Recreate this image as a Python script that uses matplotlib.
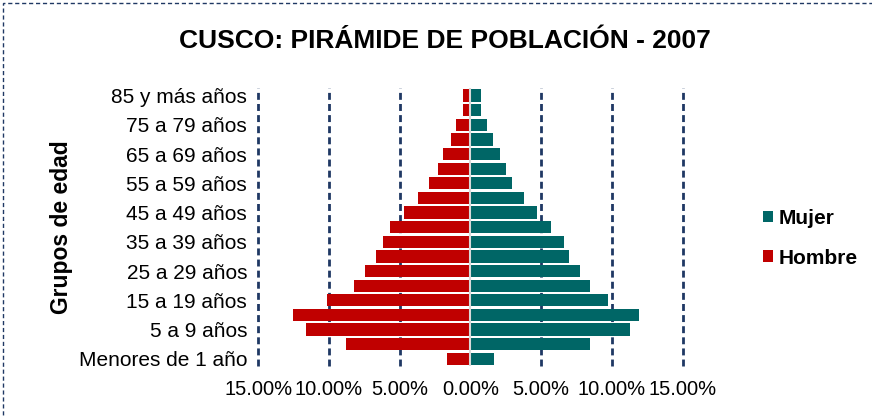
import matplotlib.pyplot as plt
from matplotlib.patches import Rectangle
from matplotlib.ticker import FuncFormatter
import numpy as np

plt.rcParams['font.family'] = ['Liberation Sans', 'DejaVu Sans']

# grupos de edad, de abajo hacia arriba
grupos = ["Menores de 1 año", "1 a 4 años", "5 a 9 años", "10 a 14 años", "15 a 19 años",
          "20 a 24 años", "25 a 29 años", "30 a 34 años", "35 a 39 años", "40 a 44 años",
          "45 a 49 años", "50 a 54 años", "55 a 59 años", "60 a 64 años", "65 a 69 años",
          "70 a 74 años", "75 a 79 años", "80 a 84 años", "85 y más años"]

# porcentajes (%)
hombre = [1.68, 8.79, 11.64, 12.54, 10.11, 8.20, 7.45, 6.65, 6.16, 5.69,
          4.72, 3.68, 2.93, 2.30, 1.92, 1.36, 1.02, 0.51, 0.51]
mujer = [1.66, 8.42, 11.26, 11.90, 9.69, 8.42, 7.76, 6.96, 6.58, 5.71,
         4.70, 3.80, 2.93, 2.48, 2.11, 1.59, 1.19, 0.72, 0.72]

rojo = "#c00000"
verde = "#006666"

fig = plt.figure(figsize=(8.72, 4.18), dpi=100)
ax = fig.add_axes([0.296, 0.124, 0.487, 0.665])

y = np.arange(len(grupos))
b1 = ax.barh(y, -np.array(hombre), height=0.84, color=rojo, label="Hombre", zorder=3)
b2 = ax.barh(y, mujer, height=0.84, color=verde, label="Mujer", zorder=3)

ax.set_xlim(-15, 15)
ax.set_ylim(-0.5, len(grupos) - 0.5)
ax.set_xticks([-15, -10, -5, 0, 5, 10, 15])
ax.xaxis.set_major_formatter(FuncFormatter(lambda v, p: "%.2f%%" % abs(v)))
ax.set_yticks(y[::2])
ax.set_yticklabels(grupos[::2])
ax.tick_params(axis='both', length=0)
ax.tick_params(axis='x', pad=10, labelsize=14.5)
ax.tick_params(axis='y', pad=8, labelsize=15)
for s in ax.spines.values():
    s.set_visible(False)

ax.grid(axis='x', color='#1f3864', linestyle=(0, (2.5, 1.5)), linewidth=2.0, zorder=1)
for v, gl in zip(ax.get_xticks(), ax.get_xgridlines()):
    gl.set_clip_on(False)
    if v == 0:
        gl.set_visible(False)
ax.axvline(0, color='#d9d9d9', linewidth=1.5, zorder=4)

ax.set_ylabel("Grupos de edad", fontsize=16.5, fontweight='bold', labelpad=4)

fig.text(0.51, 0.902, "CUSCO: PIRÁMIDE DE POBLACIÓN - 2007", fontsize=19,
         fontweight='bold', ha='center', va='center')

fig.legend([b2, b1], ["Mujer", "Hombre"], loc='center left', bbox_to_anchor=(0.853, 0.43),
           frameon=False, handlelength=0.5, handleheight=0.5, handletextpad=0.25,
           labelspacing=1.0, prop={'weight': 'bold', 'size': 15})

# marco punteado del grafico
fig.patches.append(Rectangle((3 / 872, -0.1), 1.2, 1.1 - 3 / 418, transform=fig.transFigure,
                             fill=False, edgecolor='#1f3864', linestyle=(0, (3, 2)),
                             linewidth=1.0))

fig.savefig("out.png", dpi=100)
